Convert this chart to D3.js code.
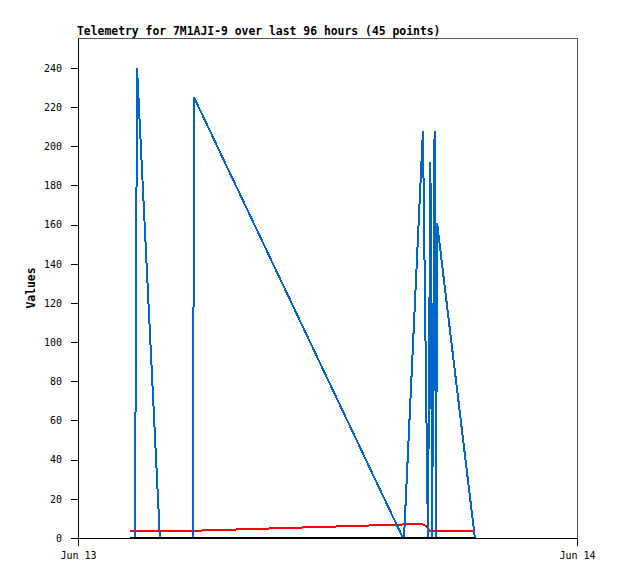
<!DOCTYPE html>
<html>
<head>
<meta charset="utf-8">
<script src="https://cdn.jsdelivr.net/npm/d3@7"></script>
<style>
    body { margin: 0; background: #fff; }
    svg { display: block; }
    text { font-family: "DejaVu Sans Mono", "Liberation Mono", monospace; }
</style>
</head>
<body>
<div id="chart"></div>
<script>
// hours after Jun 13 00:00 for each vertex
const blueHours = [2.48, 2.74, 2.84, 3.94, 5.53, 5.58, 15.63, 15.68, 16.59, 16.83, 16.95, 17.03, 17.15, 17.22, 17.27, 19.09];
const blueValues = [0, 0, 240, 0, 0, 225, 0, 0, 208, 0, 192, 0, 208, 0, 161, 0];

const redHours = [2.48, 5.58, 15.63, 16.59, 16.75, 16.90, 19.09];
const redValues = [3.7, 3.7, 6.9, 6.9, 6.0, 3.7, 3.7];

const blackHours = [2.48, 19.09];
const blackValues = [0, 0];

const yTicks = [0, 20, 40, 60, 80, 100, 120, 140, 160, 180, 200, 220, 240];
const xTickLabels = ["Jun 13", "Jun 14"];

const startDate = new Date(2024, 5, 13);
const endDate = new Date(2024, 5, 14);

function toSeries(hours, values) {
    return hours.map(function (h, i) {
        return {date: new Date(startDate.getTime() + h * 3600000), value: values[i]};
    });
}

const width = 618, height = 579;
const margin = {top: 38, right: 41, bottom: 41, left: 78};

const svg = d3.select("#chart")
    .append("svg")
    .attr("width", width)
    .attr("height", height);

const x = d3.scaleTime()
    .domain([startDate, endDate])
    .range([margin.left, width - margin.right]);

const y = d3.scaleLinear()
    .domain([0, 255.3])
    .range([height - margin.bottom, margin.top]);

// frame top and right
svg.append("path")
    .attr("d", `M${margin.left},${margin.top}H${width - margin.right}V${height - margin.bottom}`)
    .attr("fill", "none")
    .attr("stroke", "#555")
    .attr("stroke-width", 1)
    .attr("shape-rendering", "crispEdges");

const line = d3.line()
    .x(function (d) { return x(d.date); })
    .y(function (d) { return y(d.value); });

// jagged, non antialiased lines like the original
const series = [
    {hours: redHours, values: redValues, color: "#ff0000"},
    {hours: blueHours, values: blueValues, color: "#0066cc"},
    {hours: blackHours, values: blackValues, color: "#000"}
];
series.forEach(function (s) {
    svg.append("path")
        .datum(toSeries(s.hours, s.values))
        .attr("d", line)
        .attr("fill", "none")
        .attr("stroke", s.color)
        .attr("stroke-width", 2)
        .attr("shape-rendering", "crispEdges");
});

// y axis
const yAxis = svg.append("g")
    .attr("transform", `translate(${margin.left},0)`)
    .call(d3.axisLeft(y).tickValues(yTicks).tickSize(7).tickPadding(9).tickSizeOuter(0));

// x axis
const xAxis = svg.append("g")
    .attr("transform", `translate(0,${height - margin.bottom})`)
    .call(d3.axisBottom(x)
        .tickValues([startDate, endDate])
        .tickFormat(function (d, i) { return xTickLabels[i]; })
        .tickSize(8).tickPadding(6).tickSizeOuter(0));

[yAxis, xAxis].forEach(function (g) {
    g.attr("shape-rendering", "crispEdges");
    g.selectAll("text")
        .attr("font-family", "DejaVu Sans Mono, monospace")
        .attr("font-size", "10px")
        .attr("fill", "#000");
    g.selectAll("line").attr("stroke", "#000");
    g.select(".domain").attr("stroke", "#000").attr("stroke-width", 1.2);
});

svg.append("text")
    .attr("x", 77)
    .attr("y", 35)
    .attr("font-size", "11.4px")
    .attr("font-weight", "bold")
    .text("Telemetry for 7M1AJI-9 over last 96 hours (45 points)");

svg.append("text")
    .attr("transform", `translate(35,${(margin.top + height - margin.bottom) / 2}) rotate(-90)`)
    .attr("text-anchor", "middle")
    .attr("font-size", "11.4px")
    .attr("font-weight", "bold")
    .text("Values");
</script>
</body>
</html>
